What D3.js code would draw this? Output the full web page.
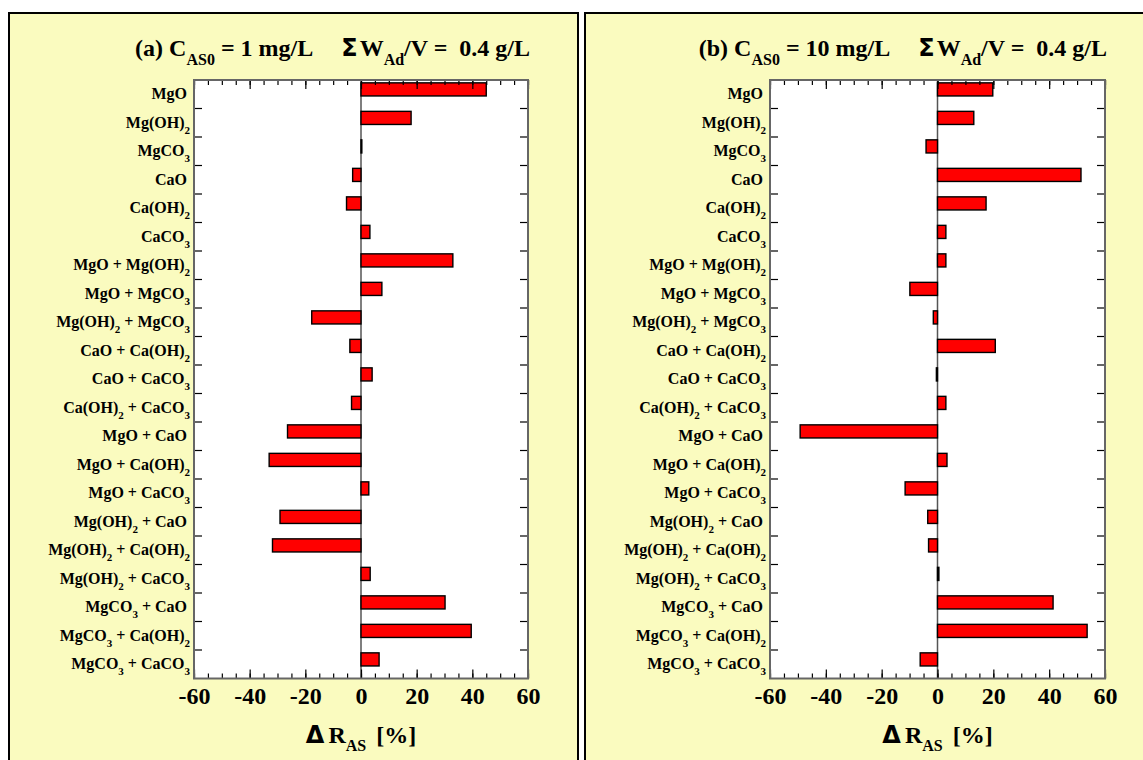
<!DOCTYPE html>
<html>
<head>
<meta charset="utf-8">
<script src="https://cdn.jsdelivr.net/npm/d3@7"></script>
<style>
  body { margin: 0; background: #fff; }
  text { font-family: "Liberation Serif", "Times New Roman", serif; font-weight: bold; fill: #000; }
</style>
</head>
<body>
<div id="chart"></div>
<script>
var width = 1143, height = 760;

// categories, top to bottom (digits become subscripts)
var categories = [
  "MgO", "Mg(OH)2", "MgCO3", "CaO", "Ca(OH)2", "CaCO3",
  "MgO + Mg(OH)2", "MgO + MgCO3", "Mg(OH)2 + MgCO3",
  "CaO + Ca(OH)2", "CaO + CaCO3", "Ca(OH)2 + CaCO3",
  "MgO + CaO", "MgO + Ca(OH)2", "MgO + CaCO3",
  "Mg(OH)2 + CaO", "Mg(OH)2 + Ca(OH)2", "Mg(OH)2 + CaCO3",
  "MgCO3 + CaO", "MgCO3 + Ca(OH)2", "MgCO3 + CaCO3"
];

// delta R_AS [%]
var valuesA = [45, 18, 0.3, -3, -5.2, 3.2, 33, 7.5, -17.7, -4, 4, -3.4,
               -26.4, -33, 2.8, -29.1, -31.8, 3.3, 30.2, 39.6, 6.5];
var valuesB = [19.8, 13, -4.1, 51.4, 17.4, 3, 3, -9.9, -1.5, 20.7, -0.4, 3,
               -49.2, 3.4, -11.6, -3.5, -3.2, 0.5, 41.4, 53.6, -6.2];

var xTicks = [-60, -40, -20, 0, 20, 40, 60];
var xMinorTicks = d3.range(-60, 61, 5);
var titlesConc = ["(a)", "(b)"];
var concValues = ["1 mg/L", "10 mg/L"];

var svg = d3.select("#chart").append("svg")
  .attr("width", width).attr("height", height);

var panels = [
  {frameX: 9, left: 194, right: 528, values: valuesA, tag: titlesConc[0], conc: concValues[0]},
  {frameX: 585, left: 770, right: 1105, values: valuesB, tag: titlesConc[1], conc: concValues[1]}
];
var plotTop = 80, plotBottom = 678.5;

panels.forEach(drawPanel);

function subText(sel, str, subSize, drop) {
  // split digits out as subscripts, shift back on the following part
  var back = 0;
  str.split(/(\d)/).filter(function(s) { return s.length; }).forEach(function(part) {
    if (/^\d$/.test(part)) {
      sel.append("tspan").attr("dy", drop).style("font-size", subSize + "px").text(part);
      back = -drop;
    } else {
      sel.append("tspan").attr("dy", back).text(part);
      back = 0;
    }
  });
}

function drawPanel(p) {
  var g = svg.append("g");

  g.append("rect")
    .attr("x", p.frameX).attr("y", 13)
    .attr("width", 569).attr("height", 760)
    .attr("fill", "#fafbbf").attr("stroke", "#000").attr("stroke-width", 2);

  var x = d3.scaleLinear().domain([-60, 60]).range([p.left, p.right]);
  var y = d3.scaleBand().domain(categories).range([plotTop, plotBottom]);
  var step = y.step();

  g.append("rect")
    .attr("x", p.left).attr("y", plotTop)
    .attr("width", p.right - p.left).attr("height", plotBottom - plotTop)
    .attr("fill", "#fff");

  // zero line
  g.append("line")
    .attr("x1", x(0)).attr("x2", x(0)).attr("y1", plotTop).attr("y2", plotBottom)
    .attr("stroke", "#555").attr("stroke-width", 1.5);

  // bars
  g.selectAll(".bar").data(p.values).enter().append("rect")
    .attr("class", "bar")
    .attr("x", function(d) { return x(Math.min(0, d)); })
    .attr("y", function(d, i) { return y(categories[i]) + step * 0.1; })
    .attr("width", function(d) { return Math.abs(x(d) - x(0)); })
    .attr("height", step * 0.46)
    .attr("fill", "#ff0000")
    .attr("stroke", "#000").attr("stroke-width", 1.4);

  // x axes (ticks pointing inward)
  var axB = g.append("g").attr("transform", "translate(0," + plotBottom + ")")
    .call(d3.axisBottom(x).tickValues(xTicks).tickSizeInner(-9).tickSizeOuter(0).tickPadding(8));
  axB.selectAll("text").style("font-size", "24px").attr("fill", "#000").text(function(d) { return d; });
  g.append("g").attr("transform", "translate(0," + plotBottom + ")")
    .call(d3.axisBottom(x).tickValues(xMinorTicks).tickSizeInner(-5).tickSizeOuter(0).tickFormat(""));
  g.append("g").attr("transform", "translate(0," + plotTop + ")")
    .call(d3.axisTop(x).tickValues(xTicks).tickSizeInner(-9).tickSizeOuter(0).tickFormat(""));
  g.append("g").attr("transform", "translate(0," + plotTop + ")")
    .call(d3.axisTop(x).tickValues(xMinorTicks).tickSizeInner(-5).tickSizeOuter(0).tickFormat(""));
  g.selectAll(".domain").remove();
  g.selectAll(".tick line").attr("stroke", "#000").attr("stroke-width", 1.2);

  // y ticks at category boundaries, both sides
  var bounds = categories.slice(1).map(function(c) { return y(c); });
  g.selectAll(".ytl").data(bounds).enter().append("line")
    .attr("x1", p.left).attr("x2", p.left + 8)
    .attr("y1", function(d) { return d; }).attr("y2", function(d) { return d; })
    .attr("stroke", "#000").attr("stroke-width", 1.2);
  g.selectAll(".ytr").data(bounds).enter().append("line")
    .attr("x1", p.right - 8).attr("x2", p.right)
    .attr("y1", function(d) { return d; }).attr("y2", function(d) { return d; })
    .attr("stroke", "#000").attr("stroke-width", 1.2);

  // frame
  g.append("rect")
    .attr("x", p.left).attr("y", plotTop)
    .attr("width", p.right - p.left).attr("height", plotBottom - plotTop)
    .attr("fill", "none").attr("stroke", "#666").attr("stroke-width", 2);

  // category labels
  categories.forEach(function(c) {
    var endsSub = /\d$/.test(c);
    var t = g.append("text")
      .attr("x", p.left - (endsSub ? 4 : 7))
      .attr("y", y(c) + step / 2 + 5)
      .attr("text-anchor", "end")
      .style("font-size", "16px");
    subText(t, c, 11, 6);
  });

  // title
  var title = g.append("text")
    .attr("x", p.right + 2).attr("y", 56)
    .attr("text-anchor", "end")
    .style("font-size", "24px");
  title.append("tspan").text(p.tag + " C");
  title.append("tspan").attr("dy", 9).style("font-size", "16px").text("AS0");
  title.append("tspan").attr("dy", -9).text(" = " + p.conc);
  title.append("tspan").attr("dx", 28)
    .style("font-family", "'DejaVu Sans', sans-serif").style("font-size", "24px").text("\u03A3");
  title.append("tspan").attr("dx", 2).text("W");
  title.append("tspan").attr("dy", 9).style("font-size", "16px").text("Ad");
  title.append("tspan").attr("dy", -9).text("/V =\u00A0 0.4 g/L");

  // x axis title
  var xt = g.append("text")
    .attr("x", x(0)).attr("y", 743)
    .attr("text-anchor", "middle")
    .style("font-size", "24px");
  xt.append("tspan").style("font-family", "'DejaVu Sans', sans-serif").text("\u0394");
  xt.append("tspan").attr("dx", 4).text("R");
  xt.append("tspan").attr("dy", 8).style("font-size", "16px").text("AS");
  xt.append("tspan").attr("dy", -8).attr("dx", 10).text("[%]");
}
</script>
</body>
</html>
